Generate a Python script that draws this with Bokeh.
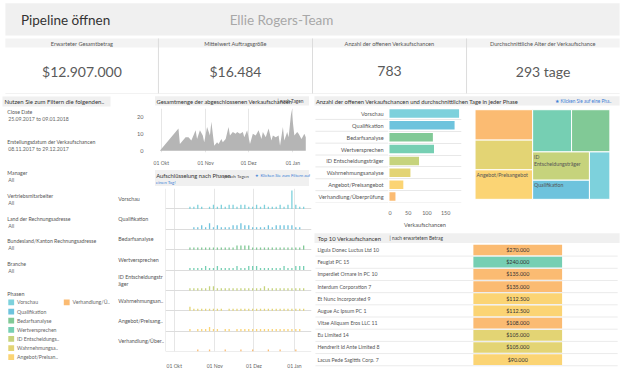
import pandas as pd
from bokeh.plotting import figure
from bokeh.models import Range1d, FixedTicker
from bokeh.layouts import column, row
from bokeh.embed import file_html
from bokeh.resources import INLINE
from bokeh.core.properties import value

FONT = "Lato"
ORIGIN = pd.Timestamp("2017-10-01")

# ---------------- data ----------------
phases = ["Vorschau", "Qualifikation", "Bedarfsanalyse", "Wertversprechen",
          "ID Entscheidungsträger", "Wahrnehmungsanalyse", "Angebot/Preisangebot",
          "Verhandlung/Überprüfung"]
phase_colors = ["#7dd1dc", "#6ec3dd", "#81c996", "#76cfb3",
                "#c6d37c", "#e3d474", "#fbd474", "#fbbb72"]
legend_labels = ["Vorschau", "Qualifikation", "Bedarfsanalyse", "Wertversprechen",
                 "ID Entscheidungs..", "Wahrnehmungsa..", "Angebot/Preisan..",
                 "Verhandlung/Ü.."]
phase_row_labels = ["Vorschau", "Qualifikation", "Bedarfsanalyse", "Wertversprechen",
                    "ID Entscheidungstr\näger", "Wahrnehmungsan..", "Angebot/Preisang..",
                    "Verhandlung/Über.."]

kpi_titles = ["Erwarteter Gesamtbetrag", "Mittelwert Auftragsgröße",
              "Anzahl der offenen Verkaufschancen", "Durchschnittliche Alter der Verkaufschance"]
kpi_values = ["$12.907.000", "$16.484", "783", "293 tage"]

filter_labels = ["Close Date", "Erstellungsdatum der Verkaufschancen", "Manager",
                 "Vertriebsmitarbeiter", "Land der Rechnungsadresse",
                 "Bundesland/Kanton Rechnungsadresse", "Branche"]
filter_values = ["25.09.2017 to 09.01.2018", "08.11.2017 to 29.12.2017", "All", "All",
                 "All", "All", "All"]

area_dates = ["2017-09-30", "2017-10-13", "2017-10-14", "2017-10-18", "2017-10-20",
              "2017-10-22", "2017-10-25", "2017-10-26", "2017-10-28", "2017-10-30",
              "2017-10-31", "2017-11-02", "2017-11-04", "2017-11-05", "2017-11-07",
              "2017-11-09", "2017-11-10", "2017-11-12", "2017-11-13", "2017-11-15",
              "2017-11-17", "2017-11-18", "2017-11-20", "2017-11-22", "2017-11-23",
              "2017-11-25", "2017-11-27", "2017-11-28", "2017-11-30", "2017-12-02",
              "2017-12-04", "2017-12-06", "2017-12-08", "2017-12-10", "2017-12-11",
              "2017-12-13", "2017-12-15", "2017-12-17", "2017-12-18", "2017-12-20",
              "2017-12-22", "2017-12-23", "2017-12-25", "2017-12-26", "2017-12-28",
              "2017-12-29", "2017-12-31", "2018-01-02", "2018-01-04", "2018-01-05",
              "2018-01-07", "2018-01-09", "2018-01-10"]
area_values = [0, 13, 4, 8, 8, 6, 12, 7, 12, 9, 5, 14, 9, 17, 3, 5, 4, 7, 5, 7,
               14, 9, 11, 10, 11, 10, 11, 8, 12, 4, 10, 9, 12, 7, 11, 8, 13, 6, 9, 8,
               9, 3, 14, 6, 11, 8, 24, 9, 11, 10, 7, 10, 8]

month_ticks = [0, 31, 61, 92]
month_labels = ["01 Okt", "01 Nov", "01 Dez", "01 Jan"]

bar_dates = ["2017-10-13", "2017-10-16", "2017-10-19", "2017-10-22", "2017-10-25",
             "2017-10-28", "2017-10-31", "2017-11-03", "2017-11-06", "2017-11-09",
             "2017-11-12", "2017-11-15", "2017-11-18", "2017-11-21", "2017-11-24",
             "2017-11-27", "2017-11-30", "2017-12-03", "2017-12-06", "2017-12-09",
             "2017-12-12", "2017-12-15", "2017-12-18", "2017-12-21", "2017-12-24",
             "2017-12-27", "2017-12-30", "2018-01-02", "2018-01-05", "2018-01-08"]
daily_vorschau = [1, 1, 2, 1, 0, 1, 2, 1, 2, 1, 2, 2, 1, 2, 2, 1, 1, 2, 1, 2, 1, 1, 1, 2, 1, 2, 9, 2, 1, 1]
daily_qualifikation = [0, 1, 1, 2, 1, 3, 1, 2, 1, 1, 1, 2, 2, 3, 2, 2, 1, 1, 1, 1, 2, 1, 2, 2, 2, 2, 2, 1, 1, 0]
daily_bedarf = [1, 1, 1, 1, 1, 1, 1, 1, 1, 1, 1, 1, 2, 2, 2, 2, 1, 1, 1, 1, 1, 1, 1, 1, 1, 1, 1, 1, 1, 2]
daily_wert = [1, 1, 1, 1, 2, 1, 1, 2, 1, 1, 1, 1, 2, 1, 1, 2, 2, 2, 1, 1, 1, 1, 1, 1, 2, 1, 1, 2, 2, 2]
daily_id = [1, 1, 1, 1, 1, 2, 2, 1, 1, 1, 1, 1, 1, 1, 1, 1, 1, 1, 1, 2, 1, 1, 1, 1, 1, 1, 1, 1, 1, 1]
daily_wahrnehmung = [2, 1, 1, 1, 1, 1, 1, 1, 1, 0, 1, 1, 1, 1, 1, 1, 1, 1, 1, 1, 1, 1, 1, 1, 1, 1, 1, 1, 1, 1]
daily_angebot = [1, 0, 1, 1, 1, 2, 1, 1, 0, 1, 1, 0, 1, 1, 1, 1, 1, 1, 1, 1, 1, 1, 1, 1, 1, 1, 1, 1, 1, 0]
daily_verhandlung = [0, 0, 1, 0, 0, 1, 0, 0, 0, 1, 0, 0, 0, 1, 0, 0, 1, 0, 0, 0, 1, 0, 0, 1, 0, 0, 0, 1, 0, 0]
daily_counts = [daily_vorschau, daily_qualifikation, daily_bedarf, daily_wert,
                daily_id, daily_wahrnehmung, daily_angebot, daily_verhandlung]

open_counts = [186, 174, 116, 119, 79, 56, 37, 16]
count_ticks = [0, 50, 100, 150]

tm_order = ["Verhandlung/Überprüfung", "Wahrnehmungsanalyse", "Angebot/Preisangebot",
            "Wertversprechen", "Bedarfsanalyse", "ID Entscheidungsträger",
            "Qualifikation", "Vorschau"]
tm_days = [340, 332, 330, 319, 314, 312, 211, 188]
tm_groups = [3, 2, 2, 1]
tm_labels = {"ID Entscheidungsträger": "ID\nEntscheidungsträger",
             "Angebot/Preisangebot": "Angebot/Preisangebot",
             "Qualifikation": "Qualifikation"}

top_names = ["Ligula Donec Luctus Ltd 10", "Feugiat PC 15", "Imperdiet Ornare In PC 10",
             "Interdum Corporation 7", "Et Nunc Incorporated 9", "Augue Ac Ipsum PC 1",
             "Vitae Aliquam Eros LLC 11", "Eu Limited 14", "Hendrerit Id Ante Limited 8",
             "Lacus Pede Sagittis Corp. 7"]
top_amounts = [270000, 240000, 135000, 135000, 112500, 112500, 108000, 105000, 105000, 90000]
top_phases = ["Verhandlung/Überprüfung", "Wertversprechen", "Verhandlung/Überprüfung",
              "Verhandlung/Überprüfung", "Angebot/Preisangebot", "Angebot/Preisangebot",
              "Verhandlung/Überprüfung", "Wahrnehmungsanalyse", "Wahrnehmungsanalyse",
              "Angebot/Preisangebot"]

color_of = dict(zip(phases, phase_colors))
BAND = "#f0f0f0"
BLUE = "#3d7fd6"


# ---------------- helpers ----------------
def blank(w, h, xr, yr):
    p = figure(width=w, height=h, x_range=Range1d(*xr), y_range=Range1d(*yr),
               x_axis_type=None, y_axis_type=None, toolbar_location=None,
               output_backend="svg", min_border=0, outline_line_color=None)
    p.background_fill_color = "white"
    p.border_fill_color = "white"
    return p


def txt(p, x, y, s, size, color="#333333", align="left", baseline="middle"):
    p.text(x=[x], y=[y], text=[s], text_font=value(FONT), text_font_size=f"{size}px",
           text_color=color, text_align=align, text_baseline=baseline)


def band(p, l, r, t, b):
    p.quad(left=[l], right=[r], top=[t], bottom=[b], fill_color=BAND, line_color=None)


def style_axis(ax, size=5.5):
    ax.axis_line_color = None
    ax.major_tick_line_color = None
    ax.minor_tick_line_color = None
    ax.major_label_text_font = FONT
    ax.major_label_text_font_size = f"{size}px"
    ax.major_label_text_color = "#666666"


# ---------------- header ----------------
hdr = blank(624, 36, (0, 640), (38, 0))
band(hdr, 5, 635, 3, 37)
txt(hdr, 21, 20.5, "Pipeline öffnen", 13.5, "#333333")
txt(hdr, 235, 20.5, "Ellie Rogers-Team", 13.5, "#a8a8a8")

# ---------------- KPI cards ----------------
kpi = blank(624, 58, (0, 640), (98, 38))
edges = [5, 162, 320, 478, 635]
kpi.quad(left=edges[:4], right=edges[1:], top=[40] * 4, bottom=[49.5] * 4,
         fill_color="#f3f3f3", line_color=None)
kpi.segment(x0=edges[1:4], x1=edges[1:4], y0=[40] * 3, y1=[97] * 3,
            line_color="#dcdcdc", line_width=1)
kpi.segment(x0=[5], x1=[635], y0=[97.5], y1=[97.5], line_color="#e4e4e4")
for i in range(4):
    cx = (edges[i] + edges[i + 1]) / 2
    txt(kpi, cx, 45, kpi_titles[i], 5.6, "#555555", "center")
    txt(kpi, cx, 74, kpi_values[i], 14, "#5a5a5a", "center")

# ---------------- filters panel ----------------
flt = blank(112, 277, (0, 115), (387, 98))
band(flt, 2, 113, 100, 110.5)
txt(flt, 4, 105.3, "Nutzen Sie zum Filtern die folgenden..", 6.0, "#333333")
f_label_y = [116, 147.5, 180, 204, 228, 251, 275]
for lab, val, y in zip(filter_labels, filter_values, f_label_y):
    txt(flt, 7, y, lab, 5.2, "#555555")
    txt(flt, 8, y + 7.5, val, 5.2, "#666666")
txt(flt, 7, 306, "Phasen", 5.4, "#555555")
leg_x = [8] * 7 + [65]
leg_y = [315, 324.5, 334, 343.5, 353, 362.5, 372, 315]
flt.quad(left=leg_x, right=[x + 6 for x in leg_x], top=[y - 3 for y in leg_y],
         bottom=[y + 3 for y in leg_y], fill_color=phase_colors, line_color=None)
for lab, x, y in zip(legend_labels, leg_x, leg_y):
    txt(flt, x + 9, y, lab, 5.2, "#666666")

# ---------------- area chart (closed opportunities) ----------------
at = blank(200, 12, (115, 320), (111, 98))
band(at, 117, 318, 100, 110)
txt(at, 119, 105.3, "Gesamtmenge der abgeschlossenen Verkaufschancen", 5.8, "#333333")
txt(at, 277, 105.3, "| nach Tagen", 4.8, "#444444")

area_x = [(pd.Timestamp(d) - ORIGIN).days for d in area_dates]
ac = figure(width=200, height=62, x_range=Range1d(-5.45, 104.3), y_range=Range1d(-0.95, 24.75),
            toolbar_location=None, output_backend="svg", outline_line_color=None,
            min_border_left=41, min_border_right=2, min_border_top=2, min_border_bottom=8)
ac.varea(x=area_x, y1=[0] * len(area_x), y2=area_values, fill_color="#b5b5b5", fill_alpha=1)
ac.xaxis.ticker = FixedTicker(ticks=month_ticks)
ac.xaxis.major_label_overrides = dict(zip(month_ticks, month_labels))
ac.xaxis.major_label_standoff = 1
ac.yaxis.ticker = FixedTicker(ticks=[0, 10, 20])
ac.yaxis.major_label_standoff = 4
style_axis(ac.xaxis[0], 5.0)
style_axis(ac.yaxis[0], 5.6)
ac.xgrid.ticker = FixedTicker(ticks=month_ticks)
ac.xgrid.grid_line_color = "#e6e6e6"
ac.ygrid.grid_line_color = None

# ---------------- phases breakdown ----------------
pt = blank(200, 18, (115, 320), (194, 175))
band(pt, 117, 318, 176.5, 194)
txt(pt, 118.5, 182.5, "Aufschlüsselung nach Phasen", 5.8, "#333333")
txt(pt, 207, 182.5, "| nach Tagen", 4.6, "#444444")
txt(pt, 248, 182.5, "★ Klicken Sie zum Filtern auf", 4.3, BLUE)
txt(pt, 118, 190, "einen Tag!", 4.5, BLUE)

pl = blank(53, 185, (115, 169.3), (0, 8))
pl.min_border_top = 2
pl.min_border_bottom = 19
for k, lab in enumerate(phase_row_labels):
    txt(pl, 121, 7 - k + 0.5, lab, 5.3, "#555555")

bar_x = [(pd.Timestamp(d) - ORIGIN).days for d in bar_dates]
pc = figure(width=147, height=185, x_range=Range1d(-6.7, 105), y_range=Range1d(0, 8),
            y_axis_location=None, toolbar_location=None, output_backend="svg",
            outline_line_color=None, min_border_left=0, min_border_right=1,
            min_border_top=2, min_border_bottom=19)
pc.xgrid.ticker = FixedTicker(ticks=month_ticks)
pc.xgrid.grid_line_color = "#e6e6e6"
pc.ygrid.grid_line_color = None
pc.hspan(y=list(range(8)), line_color="#dcdcdc", line_width=1)
pc.vspan(x=[-6.5], line_color="#dcdcdc", line_width=1)
for k, counts in enumerate(daily_counts):
    base = 7 - k
    pc.vbar(x=bar_x, bottom=[base] * len(bar_x), top=[base + c / 10 for c in counts],
            width=1.0, fill_color=phase_colors[k], line_color=None)
pc.xaxis.ticker = FixedTicker(ticks=month_ticks)
pc.xaxis.major_label_overrides = dict(zip(month_ticks, month_labels))
pc.xaxis.major_label_standoff = 5
style_axis(pc.xaxis[0], 5.0)

# ---------------- open opportunities bar chart + treemap ----------------
bt = blank(312, 12, (320, 640), (111, 98))
band(bt, 322, 635, 100, 110)
txt(bt, 323.5, 105.3, "Anzahl der offenen Verkaufschancen und durchschnittlichen Tage in jeder Phase",
    5.8, "#333333")
txt(bt, 569, 105.3, "★ Klicken Sie auf eine Pha..", 4.7, BLUE)

bl = blank(76, 124, (320, 398), (8, 0))
bl.min_border_top = 1
bl.min_border_bottom = 22
bl.segment(x0=[323] * 8, x1=[398] * 8, y0=list(range(1, 9)), y1=list(range(1, 9)),
           line_color="#e8e8e8")
for k, lab in enumerate(phases):
    txt(bl, 393, k + 0.5, lab, 5.6, "#555555", "right")

bf = figure(width=80, height=124, x_range=Range1d(-2.6, 192.5), y_range=Range1d(8, 0),
            y_axis_location=None, toolbar_location=None, output_backend="svg",
            outline_line_color=None, min_border_left=0, min_border_right=7,
            min_border_top=1, min_border_bottom=22)
bf.xgrid.grid_line_color = None
bf.ygrid.grid_line_color = None
bf.hspan(y=list(range(1, 9)), line_color="#e8e8e8", line_width=1)
bf.hbar(y=[k + 0.5 for k in range(8)], left=[0] * 8, right=open_counts, height=0.71,
        fill_color=phase_colors, line_color=None)
bf.xaxis.ticker = FixedTicker(ticks=count_ticks)
bf.xaxis.major_label_standoff = 2
bf.xaxis.axis_label = "Verkaufschancen"
bf.xaxis.axis_label_text_font = FONT
bf.xaxis.axis_label_text_font_size = "5.6px"
bf.xaxis.axis_label_text_font_style = "normal"
bf.xaxis.axis_label_text_color = "#555555"
bf.xaxis.axis_label_standoff = 3
style_axis(bf.xaxis[0], 5.4)


def treemap_layout(vals, groups, box):
    x0, y0, x1, y1 = box
    scale = (x1 - x0) * (y1 - y0) / sum(vals)
    rects, i = [], 0
    for g in groups:
        items = vals[i:i + g]
        s = sum(items) * scale
        w, h = x1 - x0, y1 - y0
        if h <= w:
            cw = s / h
            yy = y0
            for v in items:
                hh = v * scale / cw
                rects.append((x0, yy, x0 + cw, yy + hh))
                yy += hh
            x0 += cw
        else:
            rh = s / w
            xx = x0
            for v in items:
                ww = v * scale / rh
                rects.append((xx, y0, xx + ww, y0 + rh))
                xx += ww
            y0 += rh
        i += g
    return rects


tm = blank(156, 124, (480, 640), (240, 111))
rects = treemap_layout(tm_days, tm_groups, (486.7, 114, 625, 235.7))
tm.quad(left=[r[0] for r in rects], right=[r[2] for r in rects],
        top=[r[1] for r in rects], bottom=[r[3] for r in rects],
        fill_color=[color_of[n] for n in tm_order], line_color="white", line_width=1)
for n, r in zip(tm_order, rects):
    if n in tm_labels:
        txt(tm, r[0] + 1.5, r[1] + 2.5, tm_labels[n], 5.2, "#555555", "left", "top")

# ---------------- top 10 table ----------------
tt = blank(312, 14, (320, 640), (255, 240))
band(tt, 322, 635, 243, 253.5)
txt(tt, 325.5, 248.3, "Top 10 Verkaufschancen", 5.9, "#333333")
txt(tt, 399, 248.3, "| nach erwartetem Betrag", 4.8, "#444444")

tb = blank(312, 127, (320, 640), (10.47, 0.05))
n = len(top_names)
tb.segment(x0=[323] * n, x1=[633] * n, y0=[i + 1 for i in range(n)], y1=[i + 1 for i in range(n)],
           line_color="#ebebeb")
tb.quad(left=[485] * n, right=[576] * n, top=[i + 0.06 for i in range(n)],
        bottom=[i + 0.94 for i in range(n)],
        fill_color=[color_of[p] for p in top_phases], line_color=None)
for i in range(n):
    txt(tb, 325, i + 0.5, top_names[i], 5.2, "#555555")
    amt = "$" + f"{top_amounts[i]:,.0f}".replace(",", ".")
    txt(tb, 530.5, i + 0.5, amt, 5.4, "#333333", "center")

# ---------------- layout ----------------
middle = column(at, ac, pt, row(pl, pc, spacing=0), spacing=0)
right = column(bt, row(bl, bf, tm, spacing=0), tt, tb, spacing=0)
layout = column(hdr, kpi, row(flt, middle, right, spacing=0), spacing=0)

open("out.html", "w").write(file_html(layout, INLINE))
